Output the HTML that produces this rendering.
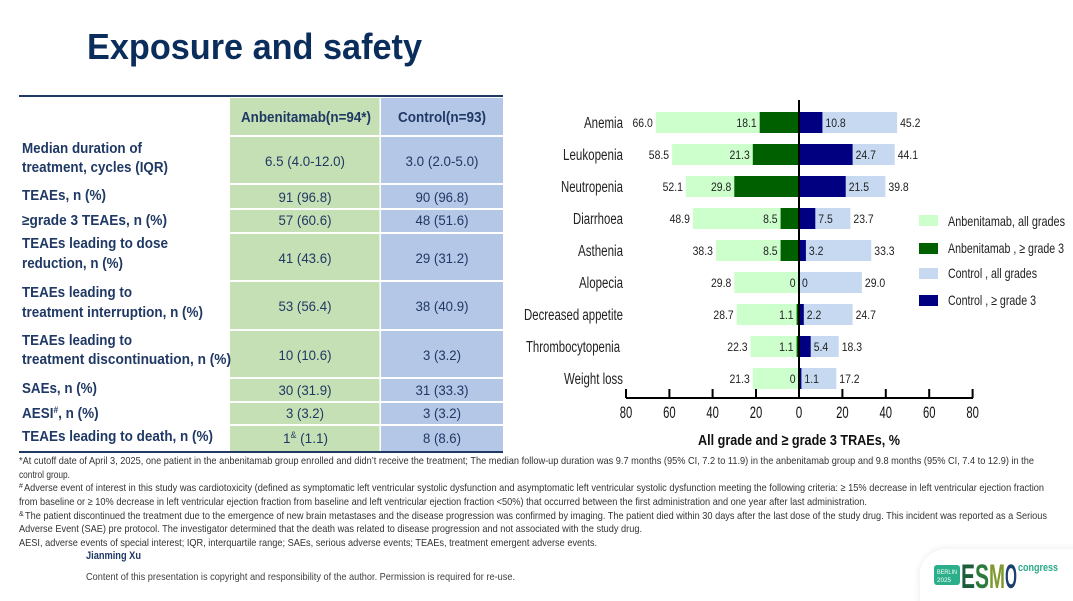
<!DOCTYPE html>
<html><head><meta charset="utf-8"><style>
html,body{margin:0;padding:0;background:#fff;}
svg{display:block;}
</style></head><body>
<svg width="1073" height="601" viewBox="0 0 1073 601" xmlns="http://www.w3.org/2000/svg" font-family="'Liberation Sans', Arial, sans-serif">
<defs>
<filter id="sh" x="-20%" y="-40%" width="140%" height="180%"><feGaussianBlur in="SourceAlpha" stdDeviation="4"/><feComponentTransfer><feFuncA type="linear" slope="0.09"/></feComponentTransfer><feMerge><feMergeNode/><feMergeNode in="SourceGraphic"/></feMerge></filter>
</defs>
<rect width="1073" height="601" fill="#fff"/>

<!-- Title -->
<text x="87" y="59" font-size="36" font-weight="bold" fill="#0b2d5b" textLength="335" lengthAdjust="spacingAndGlyphs">Exposure and safety</text>

<!-- Table backgrounds -->
<g fill="#c5e0b4">
<rect x="230" y="98" width="149.5" height="37"/>
<rect x="230" y="137" width="149.5" height="46"/>
<rect x="230" y="185" width="149.5" height="23"/>
<rect x="230" y="210" width="149.5" height="22"/>
<rect x="230" y="234" width="149.5" height="46"/>
<rect x="230" y="282" width="149.5" height="47"/>
<rect x="230" y="331" width="149.5" height="46"/>
<rect x="230" y="379" width="149.5" height="22"/>
<rect x="230" y="403" width="149.5" height="21"/>
<rect x="230" y="426" width="149.5" height="25"/>
</g>
<g fill="#b4c7e7">
<rect x="381" y="98" width="122" height="37"/>
<rect x="381" y="137" width="122" height="46"/>
<rect x="381" y="185" width="122" height="23"/>
<rect x="381" y="210" width="122" height="22"/>
<rect x="381" y="234" width="122" height="46"/>
<rect x="381" y="282" width="122" height="47"/>
<rect x="381" y="331" width="122" height="46"/>
<rect x="381" y="379" width="122" height="22"/>
<rect x="381" y="403" width="122" height="21"/>
<rect x="381" y="426" width="122" height="25"/>
</g>
<line x1="19" y1="96" x2="503" y2="96" stroke="#1f3864" stroke-width="2"/>
<line x1="19" y1="452" x2="503" y2="452" stroke="#1f3864" stroke-width="2"/>

<!-- Table header -->
<g font-weight="bold" font-size="14.5" fill="#1f3864" text-anchor="middle">
<text x="306" y="122" textLength="130" lengthAdjust="spacingAndGlyphs">Anbenitamab(n=94*)</text>
<text x="442" y="122" textLength="88" lengthAdjust="spacingAndGlyphs">Control(n=93)</text>
</g>

<!-- Row labels -->
<g font-weight="bold" font-size="14.5" fill="#1f3864">
<text x="22" y="153" textLength="120" lengthAdjust="spacingAndGlyphs">Median duration of</text>
<text x="22" y="172" textLength="146" lengthAdjust="spacingAndGlyphs">treatment, cycles (IQR)</text>
<text x="22" y="200" textLength="84" lengthAdjust="spacingAndGlyphs">TEAEs, n (%)</text>
<text x="22" y="225" textLength="145" lengthAdjust="spacingAndGlyphs">≥grade 3 TEAEs, n (%)</text>
<text x="22" y="248" textLength="146" lengthAdjust="spacingAndGlyphs">TEAEs leading to dose</text>
<text x="22" y="268" textLength="101" lengthAdjust="spacingAndGlyphs">reduction, n (%)</text>
<text x="22" y="297" textLength="110" lengthAdjust="spacingAndGlyphs">TEAEs leading to</text>
<text x="22" y="317" textLength="181" lengthAdjust="spacingAndGlyphs">treatment interruption, n (%)</text>
<text x="22" y="345" textLength="110" lengthAdjust="spacingAndGlyphs">TEAEs leading to</text>
<text x="22" y="364" textLength="209" lengthAdjust="spacingAndGlyphs">treatment discontinuation, n (%)</text>
<text x="22" y="393" textLength="75" lengthAdjust="spacingAndGlyphs">SAEs, n (%)</text>
<text transform="translate(22 418) scale(0.93 1)">AESI<tspan font-size="9" dy="-5">#</tspan><tspan dy="5">, n (%)</tspan></text>
<text x="22" y="441" textLength="191" lengthAdjust="spacingAndGlyphs">TEAEs leading to death, n (%)</text>
</g>

<!-- Values -->
<g font-size="14" fill="#203864" text-anchor="middle">
<text x="305" y="166" textLength="80" lengthAdjust="spacingAndGlyphs">6.5 (4.0-12.0)</text>
<text x="442" y="166" textLength="73" lengthAdjust="spacingAndGlyphs">3.0 (2.0-5.0)</text>
<text x="305" y="202" textLength="53" lengthAdjust="spacingAndGlyphs">91 (96.8)</text>
<text x="442" y="202" textLength="53" lengthAdjust="spacingAndGlyphs">90 (96.8)</text>
<text x="305" y="225" textLength="53" lengthAdjust="spacingAndGlyphs">57 (60.6)</text>
<text x="442" y="225" textLength="53" lengthAdjust="spacingAndGlyphs">48 (51.6)</text>
<text x="305" y="263" textLength="53" lengthAdjust="spacingAndGlyphs">41 (43.6)</text>
<text x="442" y="263" textLength="53" lengthAdjust="spacingAndGlyphs">29 (31.2)</text>
<text x="305" y="311" textLength="53" lengthAdjust="spacingAndGlyphs">53 (56.4)</text>
<text x="442" y="311" textLength="53" lengthAdjust="spacingAndGlyphs">38 (40.9)</text>
<text x="305" y="360" textLength="53" lengthAdjust="spacingAndGlyphs">10 (10.6)</text>
<text x="442" y="360" textLength="38" lengthAdjust="spacingAndGlyphs">3 (3.2)</text>
<text x="305" y="395" textLength="53" lengthAdjust="spacingAndGlyphs">30 (31.9)</text>
<text x="442" y="395" textLength="53" lengthAdjust="spacingAndGlyphs">31 (33.3)</text>
<text x="305" y="418" textLength="38" lengthAdjust="spacingAndGlyphs">3 (3.2)</text>
<text x="442" y="418" textLength="38" lengthAdjust="spacingAndGlyphs">3 (3.2)</text>
<text x="442" y="443" textLength="38" lengthAdjust="spacingAndGlyphs">8 (8.6)</text>
</g>
<text x="283" y="443" font-size="14" fill="#203864" transform="translate(283 0) scale(0.97 1) translate(-283 0)">1<tspan font-size="9" dy="-5">&amp;</tspan><tspan dy="5"> (1.1)</tspan></text>

<!-- Chart bars -->
<g fill="#ccffcc">
<rect x="655.8" y="112" width="143.2" height="21"/>
<rect x="672.1" y="144" width="126.9" height="21"/>
<rect x="685.9" y="176" width="113.1" height="21"/>
<rect x="692.9" y="208" width="106.1" height="21"/>
<rect x="715.9" y="240" width="83.1" height="21"/>
<rect x="734.3" y="272" width="64.7" height="21"/>
<rect x="736.7" y="304" width="62.3" height="21"/>
<rect x="750.6" y="336" width="48.4" height="21"/>
<rect x="752.8" y="368" width="46.2" height="21"/>
</g>
<g fill="#c6d9f1">
<rect x="799" y="112" width="98.1" height="21"/>
<rect x="799" y="144" width="95.7" height="21"/>
<rect x="799" y="176" width="86.4" height="21"/>
<rect x="799" y="208" width="51.4" height="21"/>
<rect x="799" y="240" width="72.3" height="21"/>
<rect x="799" y="272" width="62.9" height="21"/>
<rect x="799" y="304" width="53.6" height="21"/>
<rect x="799" y="336" width="39.7" height="21"/>
<rect x="799" y="368" width="37.3" height="21"/>
</g>
<g fill="#006000">
<rect x="759.7" y="112" width="39.3" height="21"/>
<rect x="752.8" y="144" width="46.2" height="21"/>
<rect x="734.3" y="176" width="64.7" height="21"/>
<rect x="780.6" y="208" width="18.4" height="21"/>
<rect x="780.6" y="240" width="18.4" height="21"/>
<rect x="796.6" y="304" width="2.4" height="21"/>
<rect x="796.6" y="336" width="2.4" height="21"/>
</g>
<g fill="#000080">
<rect x="799" y="112" width="23.4" height="21"/>
<rect x="799" y="144" width="53.6" height="21"/>
<rect x="799" y="176" width="46.7" height="21"/>
<rect x="799" y="208" width="16.3" height="21"/>
<rect x="799" y="240" width="6.9" height="21"/>
<rect x="799" y="304" width="4.8" height="21"/>
<rect x="799" y="336" width="11.7" height="21"/>
<rect x="799" y="368" width="2.4" height="21"/>
</g>

<!-- zero line and axis -->
<line x1="799" y1="100" x2="799" y2="398" stroke="#000" stroke-width="2"/>
<line x1="626" y1="398" x2="973" y2="398" stroke="#000" stroke-width="2"/>
<g stroke="#000" stroke-width="2">
<line x1="626" y1="389" x2="626" y2="398"/>
<line x1="669.4" y1="389" x2="669.4" y2="398"/>
<line x1="712.6" y1="389" x2="712.6" y2="398"/>
<line x1="756" y1="389" x2="756" y2="398"/>
<line x1="842.4" y1="389" x2="842.4" y2="398"/>
<line x1="885.8" y1="389" x2="885.8" y2="398"/>
<line x1="929.2" y1="389" x2="929.2" y2="398"/>
<line x1="972.6" y1="389" x2="972.6" y2="398"/>
</g>
<g font-size="16.5" fill="#111" text-anchor="middle">
<text x="626" y="418" textLength="12.5" lengthAdjust="spacingAndGlyphs">80</text>
<text x="669.4" y="418" textLength="12.5" lengthAdjust="spacingAndGlyphs">60</text>
<text x="712.6" y="418" textLength="12.5" lengthAdjust="spacingAndGlyphs">40</text>
<text x="756" y="418" textLength="12.5" lengthAdjust="spacingAndGlyphs">20</text>
<text x="799" y="418" textLength="6.5" lengthAdjust="spacingAndGlyphs">0</text>
<text x="842.4" y="418" textLength="12.5" lengthAdjust="spacingAndGlyphs">20</text>
<text x="885.8" y="418" textLength="12.5" lengthAdjust="spacingAndGlyphs">40</text>
<text x="929.2" y="418" textLength="12.5" lengthAdjust="spacingAndGlyphs">60</text>
<text x="972.6" y="418" textLength="12.5" lengthAdjust="spacingAndGlyphs">80</text>
</g>
<text x="799" y="445" font-size="15" font-weight="bold" fill="#111" text-anchor="middle" textLength="202" lengthAdjust="spacingAndGlyphs">All grade and ≥ grade 3 TRAEs, %</text>

<!-- Category labels -->
<g font-size="15.5" fill="#222" text-anchor="end">
<text x="623" y="128" textLength="39" lengthAdjust="spacingAndGlyphs">Anemia</text>
<text x="623" y="160" textLength="60" lengthAdjust="spacingAndGlyphs">Leukopenia</text>
<text x="623" y="192" textLength="62" lengthAdjust="spacingAndGlyphs">Neutropenia</text>
<text x="623" y="224" textLength="50" lengthAdjust="spacingAndGlyphs">Diarrhoea</text>
<text x="623" y="256" textLength="45" lengthAdjust="spacingAndGlyphs">Asthenia</text>
<text x="623" y="288" textLength="44" lengthAdjust="spacingAndGlyphs">Alopecia</text>
<text x="623" y="320" textLength="99" lengthAdjust="spacingAndGlyphs">Decreased appetite</text>
<text x="620" y="352" textLength="94" lengthAdjust="spacingAndGlyphs">Thrombocytopenia</text>
<text x="623" y="384" textLength="59" lengthAdjust="spacingAndGlyphs">Weight loss</text>
</g>

<!-- value labels -->
<g font-size="12" fill="#222">
<g text-anchor="end">
<text transform="translate(652.8 127) scale(0.87 1)">66.0</text>
<text transform="translate(756.7 127) scale(0.87 1)">18.1</text>
<text transform="translate(669.1 159) scale(0.87 1)">58.5</text>
<text transform="translate(749.8 159) scale(0.87 1)">21.3</text>
<text transform="translate(682.9 191) scale(0.87 1)">52.1</text>
<text transform="translate(731.3 191) scale(0.87 1)">29.8</text>
<text transform="translate(689.9 223) scale(0.87 1)">48.9</text>
<text transform="translate(777.6 223) scale(0.87 1)">8.5</text>
<text transform="translate(712.9 255) scale(0.87 1)">38.3</text>
<text transform="translate(777.6 255) scale(0.87 1)">8.5</text>
<text transform="translate(731.3 287) scale(0.87 1)">29.8</text>
<text transform="translate(795.5 287) scale(0.87 1)">0</text>
<text transform="translate(733.7 319) scale(0.87 1)">28.7</text>
<text transform="translate(793.6 319) scale(0.87 1)">1.1</text>
<text transform="translate(747.6 351) scale(0.87 1)">22.3</text>
<text transform="translate(793.6 351) scale(0.87 1)">1.1</text>
<text transform="translate(749.8 383) scale(0.87 1)">21.3</text>
<text transform="translate(795.5 383) scale(0.87 1)">0</text>
</g>
<g>
<text transform="translate(825.4 127) scale(0.87 1)">10.8</text>
<text transform="translate(900.1 127) scale(0.87 1)">45.2</text>
<text transform="translate(855.6 159) scale(0.87 1)">24.7</text>
<text transform="translate(897.7 159) scale(0.87 1)">44.1</text>
<text transform="translate(848.7 191) scale(0.87 1)">21.5</text>
<text transform="translate(888.4 191) scale(0.87 1)">39.8</text>
<text transform="translate(818.3 223) scale(0.87 1)">7.5</text>
<text transform="translate(853.4 223) scale(0.87 1)">23.7</text>
<text transform="translate(808.9 255) scale(0.87 1)">3.2</text>
<text transform="translate(874.3 255) scale(0.87 1)">33.3</text>
<text transform="translate(802 287) scale(0.87 1)">0</text>
<text transform="translate(864.9 287) scale(0.87 1)">29.0</text>
<text transform="translate(806.8 319) scale(0.87 1)">2.2</text>
<text transform="translate(855.6 319) scale(0.87 1)">24.7</text>
<text transform="translate(813.7 351) scale(0.87 1)">5.4</text>
<text transform="translate(841.7 351) scale(0.87 1)">18.3</text>
<text transform="translate(804.4 383) scale(0.87 1)">1.1</text>
<text transform="translate(839.3 383) scale(0.87 1)">17.2</text>
</g>
</g>

<!-- Legend -->
<rect x="919" y="215" width="19" height="11" fill="#ccffcc"/>
<rect x="919" y="243" width="19" height="11" fill="#006000"/>
<rect x="919" y="268" width="19" height="11" fill="#c6d9f1"/>
<rect x="919" y="295" width="19" height="11" fill="#000080"/>
<g font-size="14" fill="#222">
<text x="948" y="226" textLength="117" lengthAdjust="spacingAndGlyphs">Anbenitamab,  all grades</text>
<text x="948" y="253" textLength="116" lengthAdjust="spacingAndGlyphs">Anbenitamab , ≥ grade 3</text>
<text x="948" y="278" textLength="89" lengthAdjust="spacingAndGlyphs">Control ,  all grades</text>
<text x="948" y="305" textLength="88" lengthAdjust="spacingAndGlyphs">Control , ≥ grade 3</text>
</g>

<!-- Footnotes -->
<g font-size="10.5" fill="#333">
<text x="19" y="464" textLength="1015" lengthAdjust="spacingAndGlyphs">*At cutoff date of April 3, 2025, one patient in the anbenitamab group enrolled and didn’t receive the treatment; The median follow-up duration was 9.7 months (95% CI, 7.2 to 11.9) in the anbenitamab group and 9.8 months (95% CI, 7.4 to 12.9) in the</text>
<text x="19" y="478" textLength="51" lengthAdjust="spacingAndGlyphs">control group.</text>
<text x="19" y="488" font-size="7">#</text>
<text x="24" y="491" textLength="1020" lengthAdjust="spacingAndGlyphs">Adverse event of interest in this study was cardiotoxicity (defined as symptomatic left ventricular systolic dysfunction and asymptomatic left ventricular systolic dysfunction meeting the following criteria: ≥ 15% decrease in left ventricular ejection fraction</text>
<text x="19" y="505" textLength="848" lengthAdjust="spacingAndGlyphs">from baseline or ≥ 10% decrease in left ventricular ejection fraction from baseline and left ventricular ejection fraction &lt;50%) that occurred between the first administration and one year after last administration.</text>
<text x="19" y="516" font-size="7">&amp;</text>
<text x="25" y="519" textLength="1022" lengthAdjust="spacingAndGlyphs">The patient discontinued the treatment due to the emergence of new brain metastases and the disease progression was confirmed by imaging. The patient died within 30 days after the last dose of the study drug. This incident was reported as a Serious</text>
<text x="19" y="532" textLength="623" lengthAdjust="spacingAndGlyphs">Adverse Event (SAE) pre protocol. The investigator determined that the death was related to disease progression and not associated with the study drug.</text>
<text x="19" y="546" textLength="578" lengthAdjust="spacingAndGlyphs">AESI, adverse events of special interest; IQR, interquartile range; SAEs, serious adverse events; TEAEs, treatment emergent adverse events.</text>
</g>
<text x="86" y="559" font-size="11" font-weight="bold" fill="#1f3864" textLength="55" lengthAdjust="spacingAndGlyphs">Jianming Xu</text>
<text x="86" y="580" font-size="10.5" fill="#404040" textLength="429" lengthAdjust="spacingAndGlyphs">Content of this presentation is copyright and responsibility of the author. Permission is required for re-use.</text>

<!-- Logo panel -->
<rect x="920" y="549" width="200" height="80" rx="26" fill="#fff" filter="url(#sh)"/>
<rect x="934" y="565" width="26" height="20" rx="3" fill="#2bae8a"/>
<text x="937" y="574" font-size="6.5" fill="#fff" textLength="20" lengthAdjust="spacingAndGlyphs">BERLIN</text>
<text x="937" y="582" font-size="6.5" fill="#fff" textLength="14" lengthAdjust="spacingAndGlyphs">2025</text>
<g font-size="34" font-weight="bold">
<text x="961" y="588" fill="#1d5e3a" textLength="14" lengthAdjust="spacingAndGlyphs">E</text>
<text x="975" y="588" fill="#2d7a3d" textLength="14" lengthAdjust="spacingAndGlyphs">S</text>
<text x="989" y="588" fill="#7d9a2c" textLength="16" lengthAdjust="spacingAndGlyphs">M</text>
<text x="1005" y="588" fill="#1b3f6e" textLength="12" lengthAdjust="spacingAndGlyphs">O</text>
</g>
<text x="1018" y="571" font-size="11" font-weight="bold" fill="#2aa88a" textLength="40" lengthAdjust="spacingAndGlyphs">congress</text>
</svg>
</body></html>
